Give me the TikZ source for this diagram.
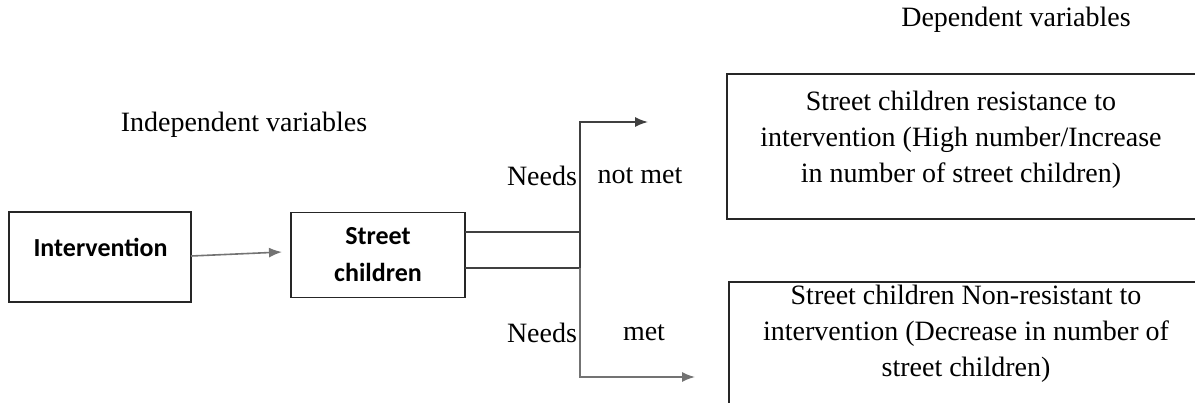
\documentclass[tikz,border=0pt]{standalone}
\usepackage{fontspec}
\setmainfont{Liberation Serif}
\newfontfamily\carl{Carlito}
\usetikzlibrary{arrows.meta}
\begin{document}
\begin{tikzpicture}[x=1pt,y=-1pt,
  every node/.style={inner sep=0pt, outer sep=0pt},
  box/.style={draw=black!85, line width=1.6pt, rectangle},
  serif/.style={font=\fontsize{28}{36}\selectfont, align=center},
  bold/.style={font=\carl\bfseries\fontsize{26}{37}\selectfont, align=center},
  conn/.style={draw=black!75, line width=1.6pt},
  tip/.style={-{Latex[length=13pt,width=10pt]}}
]
\useasboundingbox (0,0) rectangle (1195,402);
\clip (0,0) rectangle (1195,402);

% headings
\node[serif] (dep) at (1016,20) {Dependent variables};
\node[serif] (indep) at (244,125) {Independent variables};

% intervention box
\node[box, minimum width=182pt, minimum height=90pt] (int) at (100,257) {};
\node[bold] (intT) at (100.5,247) {Intervention};

% street children
\node[box, minimum width=174pt, minimum height=85pt, bold] (sc) at (378,255) {Street\\children};

% arrow intervention -> street children
\draw[conn, draw=black!55, tip] (int.east) ++(0pt,1pt) coordinate (a0) -- (282,252) coordinate (a1);

% junction lines
\coordinate (jt) at (580,232);
\coordinate (jb) at (580,268);
\coordinate (tt) at (648,122);
\coordinate (tb) at (695,377);
\draw[conn] ([yshift=23pt]sc.east) -- (jt);
\draw[conn] ([yshift=-13pt]sc.east) -- (jb);
\draw[conn, tip] (jt) |- (tt);
\draw[conn, draw=black!55, tip] (jb) |- (tb);
\draw[conn] (jt) -- (jb);

% labels
\node[serif] (n1) at (542,176) {Needs};
\node[serif] (nm1) at (640,176) {not met};
\node[serif] (n2) at (542,333) {Needs};
\node[serif] (nm2) at (644,333) {met};

% dependent boxes
\node[box, minimum width=470pt, minimum height=145pt] (top) at (962,146.5) {};
\node[serif] (topT) at (961,139.5) {Street children resistance to\\intervention (High number/Increase\\in number of street children)};
\node[box, minimum width=470pt, minimum height=140pt] (bot) at (964,352) {};
\node[serif] (botT) at (966,334) {Street children Non-resistant to\\intervention (Decrease in number of\\street children)};
\end{tikzpicture}
\end{document}
